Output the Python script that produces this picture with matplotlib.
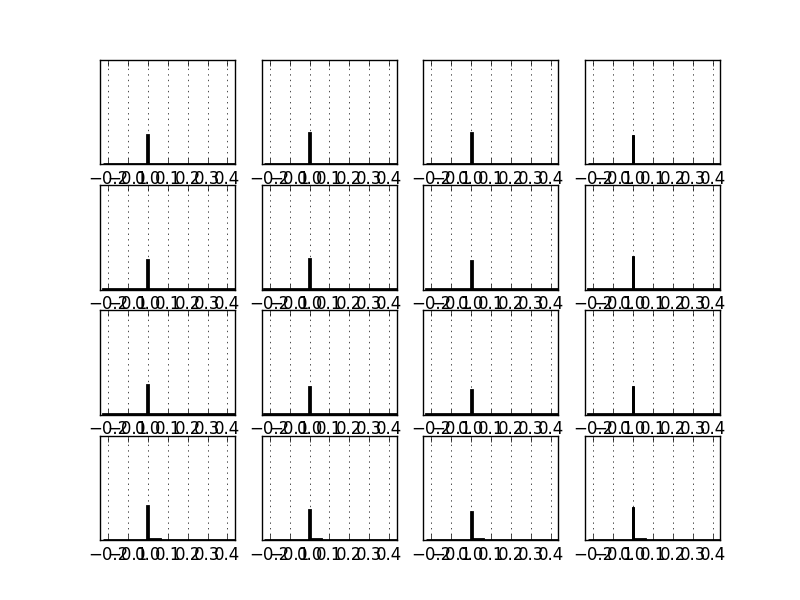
import matplotlib
matplotlib.use("Agg")
import matplotlib.pyplot as plt
import numpy as np

plt.style.use("classic")

# bin edges of the (variable-width) histograms
bin_edges = [-0.227, -0.0025, 0.0025, 0.06, 0.437]
xticks = [-0.2, -0.1, 0.0, 0.1, 0.2, 0.3, 0.4]
x_limits = (-0.24, 0.437)

# peak heights (fraction of axis height), row by row
peak = [0.281, 0.303, 0.303, 0.281,
        0.284, 0.290, 0.277, 0.322,
        0.286, 0.270, 0.235, 0.280,
        0.326, 0.288, 0.269, 0.314]
# small values left of the peak, right tail, far right
left_base = [0.004] * 16
tail = [0.006, 0.005, 0.007, 0.006,
        0.005, 0.005, 0.006, 0.005,
        0.006, 0.006, 0.009, 0.006,
        0.006, 0.008, 0.008, 0.005]
right_base = [0.004] * 16

fig, axes = plt.subplots(4, 4, figsize=(8, 6), dpi=100)
centers = [(bin_edges[i] + bin_edges[i + 1]) / 2 for i in range(len(bin_edges) - 1)]
for k, ax in enumerate(axes.flat):
    vals = [left_base[k], peak[k], tail[k], right_base[k]]
    ax.hist(centers, bins=bin_edges, weights=vals, histtype="step",
            color="k", linewidth=2)
    ax.set_xlim(*x_limits)
    ax.set_ylim(0, 1)
    ax.set_xticks(xticks)
    ax.set_yticks([])
    ax.xaxis.grid(True, color="k", linestyle=":", linewidth=0.5)
    ax.tick_params(axis="x", labelsize=12)

fig.savefig("out.png", dpi=100)
